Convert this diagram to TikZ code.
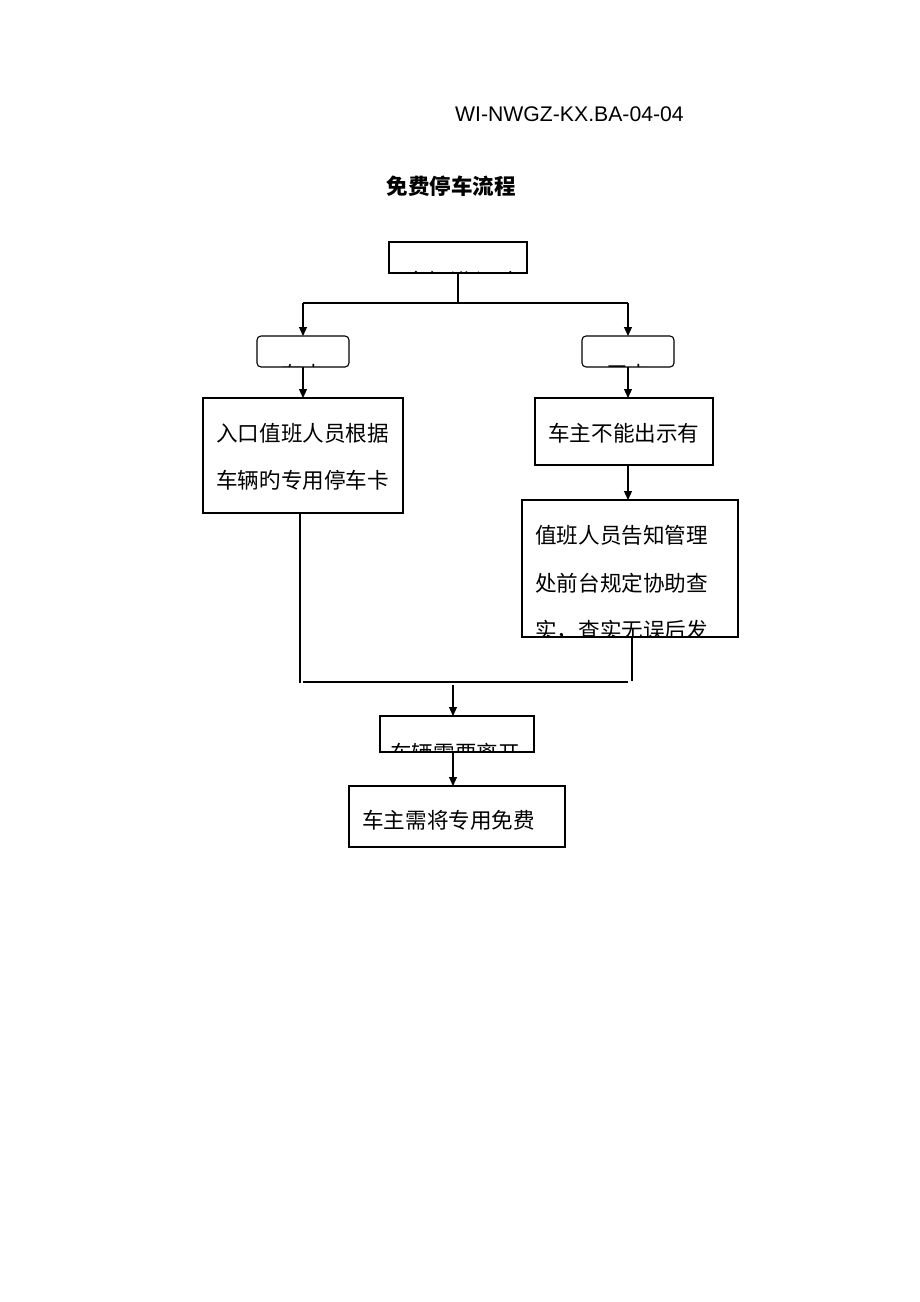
\documentclass[tikz,border=0pt]{standalone}
\usepackage{fontspec}
\setmainfont{Liberation Sans}
\newfontfamily\cjk{Noto Sans CJK SC}
\usetikzlibrary{arrows.meta}
\begin{document}
\begin{tikzpicture}[x=1pt,y=-1pt,
  box/.style={draw,line width=1.1pt,inner sep=0pt},
  rbox/.style={draw,line width=1.1pt,inner sep=0pt,rounded corners=4pt},
  conn/.style={line width=1.1pt},
  arr/.style={line width=1.1pt,-{Triangle[length=9pt,width=8pt]}},
  txt/.style={font=\cjk\fontsize{21.6}{21.6}\selectfont,inner sep=0pt,anchor=west}]
\useasboundingbox (0,0) rectangle (920,1302);
\node[anchor=base west,inner sep=0pt,font=\fontsize{21.2}{21.2}\selectfont] (hdr) at (455,121) {WI-NWGZ-KX.BA-04-04};
\node[inner sep=0pt,font=\cjk\bfseries\fontsize{21.5}{21.5}\selectfont] (title) at (451,186) {免费停车流程};
% boxes
\draw[box] (389,242) rectangle (527,273);
\coordinate (top) at (458,273);
\begin{scope}
\clip (389,242) rectangle (527,272);
\node[inner sep=0pt,font=\cjk\fontsize{21.6}{21.6}\selectfont] (toptxt) at (461,281) {车辆进入时};
\end{scope}
\draw[rbox] (257,336) rectangle (349,367);
\draw[rbox] (582,336) rectangle (674,367);
\begin{scope}
\clip (257,336) rectangle (349,366);
\node[inner sep=0pt,font=\cjk\fontsize{21.6}{21.6}\selectfont] (ltxt) at (303,374) {有卡};
\end{scope}
\begin{scope}
\clip (582,336) rectangle (674,366);
\node[inner sep=0pt,font=\cjk\fontsize{21.6}{21.6}\selectfont] (rtxt) at (628,374) {无卡};
\end{scope}
\draw[box] (203,398) rectangle (403,513);
\node[txt] (l1) at (216,433) {入口值班人员根据};
\node[txt] (l2) at (216,480) {车辆旳专用停车卡};
\draw[box] (535,398) rectangle (713,465);
\node[txt] (r1) at (548,433) {车主不能出示有};
\draw[box] (522,500) rectangle (738,637);
\node[txt] (r2a) at (535,535) {值班人员告知管理};
\node[txt] (r2b) at (535,583) {处前台规定协助查};
\begin{scope}
\clip (522,500) rectangle (738,636);
\node[txt] (r2c) at (535,630) {实，查实无误后发};
\end{scope}
\draw[box] (380,716) rectangle (534,752);
\begin{scope}
\clip (380,716) rectangle (534,751);
\node[inner sep=0pt,font=\cjk\fontsize{21.6}{21.6}\selectfont] (btxt) at (455,753) {车辆需要离开};
\end{scope}
\draw[box] (349,786) rectangle (565,847);
\node[txt] (b2) at (362,820) {车主需将专用免费};
% connectors
\coordinate (tj) at (458,303);
\coordinate (tl) at (303,303);
\coordinate (tr) at (628,303);
\draw[conn] (top) -- (tj);
\draw[conn] (tl) -- (tr);
\draw[arr] (tl) -- (303,336);
\draw[arr] (tr) -- (628,336);
\draw[arr] (303,367) -- (303,398);
\draw[arr] (628,367) -- (628,398);
\draw[arr] (628,465) -- (628,500);
\draw[conn] (300,513) -- (300,683);
\draw[conn] (632,637) -- (632,681);
\draw[conn] (303,682) -- (628,682);
\draw[arr] (453,685) -- (453,716);
\draw[arr] (453,752) -- (453,786);
\end{tikzpicture}
\end{document}
